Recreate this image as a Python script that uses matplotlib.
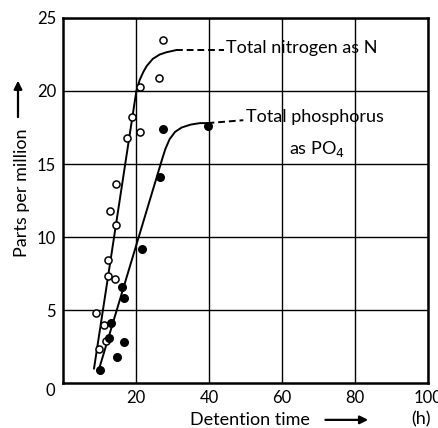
import matplotlib
matplotlib.use("Agg")
import matplotlib.pyplot as plt

plt.rcParams['font.family'] = ['Lato', 'DejaVu Sans']

# measured concentrations (ppm) against detention time (h)
nitrogen_t = [9.0, 9.8, 11.2, 11.7, 12.3, 12.3, 12.8, 14.2, 14.5, 14.5,
              17.5, 18.9, 21.0, 21.0, 26.2, 27.3]
nitrogen_ppm = [4.8, 2.3, 4.0, 2.9, 8.4, 7.3, 11.8, 7.1, 10.8, 13.6,
                16.8, 18.2, 20.3, 17.2, 20.9, 23.5]

phosphorus_t = [10.1, 12.6, 13.1, 14.8, 16.1, 16.7, 16.7, 21.6, 26.5, 27.3, 39.6]
phosphorus_ppm = [0.9, 3.1, 4.1, 1.8, 6.6, 5.8, 2.8, 9.2, 14.1, 17.4, 17.6]

# hand-drawn trend curves
nitrogen_fit_t = [8.5, 20.1, 21.0, 22.0, 22.9, 24.6, 26.5, 28.3, 31.0]
nitrogen_fit_ppm = [1.0, 20.0, 20.75, 21.3, 21.7, 22.2, 22.5, 22.65, 22.8]
nitrogen_lead_t = [31.0, 44.0]
nitrogen_lead_ppm = [22.8, 22.8]

phosphorus_fit_t = [9.8, 27.0, 28.0, 29.2, 30.7, 32.5, 35.0, 37.5, 39.6]
phosphorus_fit_ppm = [0.9, 15.2, 16.0, 16.7, 17.2, 17.5, 17.7, 17.8, 17.8]
phosphorus_lead_t = [39.6, 49.4]
phosphorus_lead_ppm = [17.8, 18.0]

x_ticks = [20, 40, 60, 80, 100]
y_ticks = [5, 10, 15, 20, 25]

fig = plt.figure(figsize=(4.39, 4.28), dpi=100)
ax = fig.add_axes([0.1435, 0.105, 0.8315, 0.853])

ax.plot(nitrogen_fit_t, nitrogen_fit_ppm, color='black', lw=1.4)
ax.plot(nitrogen_lead_t, nitrogen_lead_ppm, color='black', lw=1.4, ls=(0, (3.5, 2)))
ax.plot(phosphorus_fit_t, phosphorus_fit_ppm, color='black', lw=1.4)
ax.plot(phosphorus_lead_t, phosphorus_lead_ppm, color='black', lw=1.4, ls=(0, (3.5, 2)))

ax.scatter(nitrogen_t, nitrogen_ppm, s=26, facecolor='white', edgecolor='black',
           linewidth=1.1, zorder=3)
ax.scatter(phosphorus_t, phosphorus_ppm, s=30, color='black', zorder=3)

ax.text(44.7, 22.95, 'Total nitrogen as N', fontsize=13, va='center', ha='left')
ax.text(50.0, 18.2, 'Total phosphorus', fontsize=13, va='center', ha='left')
ax.text(62.0, 16.0, r'as PO$_4$', fontsize=13, va='center', ha='left')

ax.set_xlim(0, 100)
ax.set_ylim(0, 25)
ax.set_xticks(x_ticks)
ax.set_yticks(y_ticks)
ax.tick_params(length=0, labelsize=12, pad=5)
ax.grid(True, color='black', lw=1.0)
ax.set_axisbelow(True)
for sp in ax.spines.values():
    sp.set_linewidth(1.8)

# shared origin label in the corner
ax.annotate('0', xy=(0, 0), xytext=(-9, -6), textcoords='offset points',
            fontsize=12, ha='center', va='center')

# axis captions with arrows
fig.text(0.57, 0.008, 'Detention time', fontsize=13, ha='center', va='baseline')
fig.text(0.958, 0.008, '(h)', fontsize=13, ha='center', va='baseline')
ax.annotate('', xy=(0.845, 0.019), xytext=(0.735, 0.019), xycoords='figure fraction',
            arrowprops=dict(arrowstyle='-|>', color='black', lw=1.6, mutation_scale=12))
fig.text(0.05, 0.549, 'Parts per million', fontsize=13, rotation=90,
         ha='center', va='center')
ax.annotate('', xy=(0.041, 0.818), xytext=(0.041, 0.72), xycoords='figure fraction',
            arrowprops=dict(arrowstyle='-|>', color='black', lw=1.6, mutation_scale=12))

fig.savefig('out.png', dpi=100)
